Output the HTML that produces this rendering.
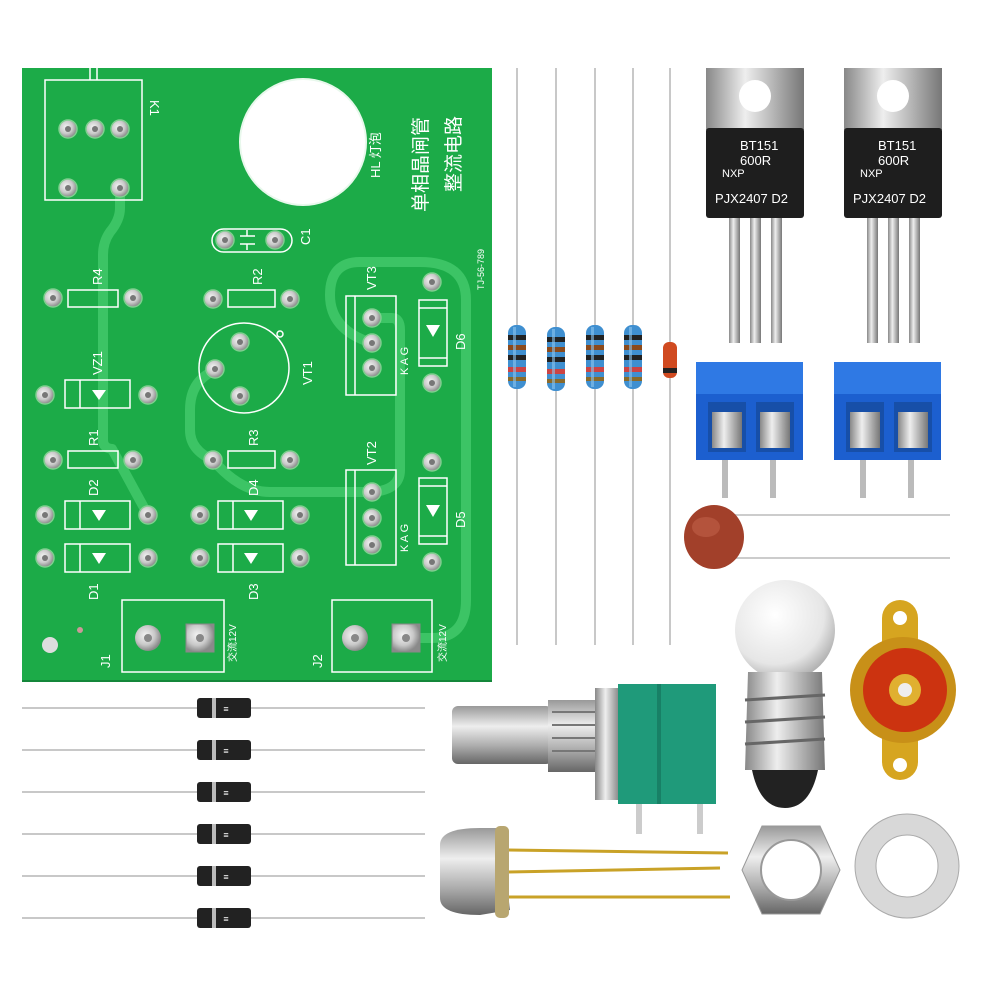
<!DOCTYPE html>
<html><head><meta charset="utf-8"><style>
html,body{margin:0;padding:0;background:#fff}
svg{display:block}
text{font-family:"Liberation Sans","Noto Sans CJK SC",sans-serif;fill:#fff}
</style></head><body>
<svg width="1000" height="1000" viewBox="0 0 1000 1000" xmlns="http://www.w3.org/2000/svg">
<defs>
<radialGradient id="pad" cx="0.4" cy="0.4" r="0.6"><stop offset="0" stop-color="#f4f4f4"/><stop offset="0.6" stop-color="#c9c9c9"/><stop offset="1" stop-color="#8a8a8a"/></radialGradient>
<linearGradient id="metal" x1="0" y1="0" x2="0" y2="1"><stop offset="0" stop-color="#999"/><stop offset="0.35" stop-color="#eee"/><stop offset="0.7" stop-color="#aaa"/><stop offset="1" stop-color="#666"/></linearGradient>
<linearGradient id="metalh" x1="0" y1="0" x2="1" y2="0"><stop offset="0" stop-color="#888"/><stop offset="0.4" stop-color="#eee"/><stop offset="1" stop-color="#777"/></linearGradient>
<radialGradient id="glass" cx="0.4" cy="0.35" r="0.7"><stop offset="0" stop-color="#fff"/><stop offset="0.7" stop-color="#e6e6e6"/><stop offset="1" stop-color="#aaa"/></radialGradient>
<g id="p"><circle r="9" fill="url(#pad)" stroke="#7fcf8f" stroke-width="1.5"/><circle r="3" fill="#777"/></g>
<g id="diode"><rect x="-8" y="-5" width="16" height="10" rx="2" fill="#3a3a3a"/><rect x="-27" y="-10" width="54" height="20" rx="3" fill="#222"/><rect x="-12" y="-10" width="4" height="20" fill="#bbb"/><text x="2" y="4" font-size="9" fill="#888" text-anchor="middle">≡</text></g>
<g id="res"><rect x="-9" y="0" width="18" height="64" rx="8" fill="#3f8fd0"/><rect x="-9" y="10" width="18" height="5" fill="#222"/><rect x="-9" y="20" width="18" height="5" fill="#8b4a1c"/><rect x="-9" y="30" width="18" height="5" fill="#222"/><rect x="-9" y="42" width="18" height="5" fill="#c44"/><rect x="-9" y="52" width="18" height="4" fill="#8b6a2a"/><rect x="-4" y="2" width="3" height="60" fill="#8cc4ee" opacity=".6"/></g>
</defs>

<!-- PCB -->
<rect x="22" y="68" width="470" height="614" fill="#1cab48"/>
<line x1="22" y1="681" x2="492" y2="681" stroke="#14873a" stroke-width="2"/>
<g fill="none" stroke="#3cc465" stroke-width="10" stroke-linecap="round" stroke-linejoin="round">
<path d="M120 188 L120 208 Q120 220 110 232 Q103 242 103 255 L103 440 Q103 448 112 449 L148 515"/>
<path d="M216 370 Q190 380 190 410 L190 430 Q190 450 213 460 Q240 492 270 492 L372 492"/>
<path d="M372 318 L392 318 Q400 318 400 330 L400 470 Q400 490 372 492"/>
<path d="M372 343 Q330 330 330 295 Q330 262 360 262 L420 262 Q466 262 466 300 L466 600 Q466 638 432 638 L406 638"/>
</g>
<g fill="none" stroke="#fff" stroke-width="1.5">
<rect x="45" y="80" width="97" height="120"/>
<line x1="90" y1="68" x2="90" y2="80"/><line x1="97" y1="68" x2="97" y2="80"/>
<rect x="212" y="229" width="80" height="23" rx="11.5"/>
<line x1="240" y1="236" x2="255" y2="236"/><line x1="240" y1="244" x2="255" y2="244"/><line x1="247" y1="236" x2="247" y2="230"/><line x1="247" y1="244" x2="247" y2="250"/>
<rect x="228" y="290" width="47" height="17"/>
<rect x="68" y="290" width="50" height="17"/>
<circle cx="244" cy="368" r="45"/><circle cx="280" cy="334" r="3"/>
<rect x="65" y="380" width="65" height="28"/><line x1="80" y1="380" x2="80" y2="408"/>
<rect x="68" y="451" width="50" height="17"/>
<rect x="228" y="451" width="47" height="17"/>
<rect x="65" y="501" width="65" height="28"/><line x1="80" y1="501" x2="80" y2="529"/>
<rect x="65" y="544" width="65" height="28"/><line x1="80" y1="544" x2="80" y2="572"/>
<rect x="218" y="501" width="65" height="28"/><line x1="233" y1="501" x2="233" y2="529"/>
<rect x="218" y="544" width="65" height="28"/><line x1="233" y1="544" x2="233" y2="572"/>
<path d="M346 296 L396 296 L396 395 L346 395 Z M355 296 L355 395"/>
<path d="M346 470 L396 470 L396 565 L346 565 Z M355 470 L355 565"/>
<rect x="419" y="300" width="28" height="66"/><line x1="419" y1="308" x2="447" y2="308"/><line x1="419" y1="358" x2="447" y2="358"/>
<rect x="419" y="478" width="28" height="66"/><line x1="419" y1="486" x2="447" y2="486"/><line x1="419" y1="536" x2="447" y2="536"/>
<rect x="122" y="600" width="102" height="72"/>
<rect x="332" y="600" width="100" height="72"/>
</g>
<g fill="#fff">
<path d="M92 390 L106 390 L99 400 Z"/><path d="M92 510 L106 510 L99 521 Z"/><path d="M92 553 L106 553 L99 564 Z"/>
<path d="M244 510 L258 510 L251 521 Z"/><path d="M244 553 L258 553 L251 564 Z"/>
<path d="M426 325 L440 325 L433 337 Z"/><path d="M426 505 L440 505 L433 517 Z"/>
</g>
<circle cx="303" cy="142" r="63" fill="#fff" stroke="#e8f8ec" stroke-width="2"/>
<g font-size="13">
<text transform="translate(150,100) rotate(90)">K1</text>
<text transform="translate(380,178) rotate(-90)">HL 灯泡</text>
<text transform="translate(427,212) rotate(-90)" font-size="19">单相晶闸管</text>
<text transform="translate(460,192) rotate(-90)" font-size="19">整流电路</text>
<text transform="translate(484,290) rotate(-90)" font-size="9">TJ-56-789</text>
<text transform="translate(310,245) rotate(-90)">C1</text>
<text transform="translate(262,285) rotate(-90)">R2</text>
<text transform="translate(102,285) rotate(-90)">R4</text>
<text transform="translate(102,375) rotate(-90)">VZ1</text>
<text transform="translate(312,385) rotate(-90)">VT1</text>
<text transform="translate(98,446) rotate(-90)">R1</text>
<text transform="translate(258,446) rotate(-90)">R3</text>
<text transform="translate(98,496) rotate(-90)">D2</text>
<text transform="translate(258,496) rotate(-90)">D4</text>
<text transform="translate(98,600) rotate(-90)">D1</text>
<text transform="translate(258,600) rotate(-90)">D3</text>
<text transform="translate(376,290) rotate(-90)">VT3</text>
<text transform="translate(376,465) rotate(-90)">VT2</text>
<text transform="translate(408,375) rotate(-90)" font-size="11">K A G</text>
<text transform="translate(408,552) rotate(-90)" font-size="11">K A G</text>
<text transform="translate(465,350) rotate(-90)">D6</text>
<text transform="translate(465,528) rotate(-90)">D5</text>
<text transform="translate(110,668) rotate(-90)">J1</text>
<text transform="translate(322,668) rotate(-90)">J2</text>
<text transform="translate(236,662) rotate(-90)" font-size="10">交流12V</text>
<text transform="translate(446,662) rotate(-90)" font-size="10">交流12V</text>
</g>
<g>
<use href="#p" x="68" y="129"/><use href="#p" x="95" y="129"/><use href="#p" x="120" y="129"/><use href="#p" x="68" y="188"/><use href="#p" x="120" y="188"/>
<use href="#p" x="225" y="240"/><use href="#p" x="275" y="240"/>
<use href="#p" x="213" y="299"/><use href="#p" x="290" y="299"/>
<use href="#p" x="53" y="298"/><use href="#p" x="133" y="298"/>
<use href="#p" x="240" y="342"/><use href="#p" x="215" y="369"/><use href="#p" x="240" y="396"/>
<use href="#p" x="45" y="395"/><use href="#p" x="148" y="395"/>
<use href="#p" x="53" y="460"/><use href="#p" x="133" y="460"/>
<use href="#p" x="213" y="460"/><use href="#p" x="290" y="460"/>
<use href="#p" x="45" y="515"/><use href="#p" x="148" y="515"/>
<use href="#p" x="45" y="558"/><use href="#p" x="148" y="558"/>
<use href="#p" x="200" y="515"/><use href="#p" x="300" y="515"/>
<use href="#p" x="200" y="558"/><use href="#p" x="300" y="558"/>
<use href="#p" x="372" y="318"/><use href="#p" x="372" y="343"/><use href="#p" x="372" y="368"/>
<use href="#p" x="372" y="492"/><use href="#p" x="372" y="518"/><use href="#p" x="372" y="545"/>
<use href="#p" x="432" y="282"/><use href="#p" x="432" y="383"/>
<use href="#p" x="432" y="462"/><use href="#p" x="432" y="562"/>
</g>
<circle cx="148" cy="638" r="13" fill="url(#pad)"/><circle cx="148" cy="638" r="4" fill="#888"/>
<rect x="186" y="624" width="28" height="28" fill="url(#pad)" stroke="#888"/><circle cx="200" cy="638" r="4" fill="#888"/>
<circle cx="355" cy="638" r="13" fill="url(#pad)"/><circle cx="355" cy="638" r="4" fill="#888"/>
<rect x="392" y="624" width="28" height="28" fill="url(#pad)" stroke="#888"/><circle cx="406" cy="638" r="4" fill="#888"/>
<circle cx="80" cy="630" r="3" fill="#c99"/><circle cx="50" cy="645" r="8" fill="#ddd"/>

<!-- resistor leads -->
<g stroke="#c8c8c8" stroke-width="2">
<line x1="517" y1="68" x2="517" y2="645"/><line x1="556" y1="68" x2="556" y2="645"/><line x1="595" y1="68" x2="595" y2="645"/><line x1="633" y1="68" x2="633" y2="645"/><line x1="670" y1="68" x2="670" y2="645"/>
</g>
<use href="#res" x="517" y="325"/><use href="#res" x="556" y="327"/><use href="#res" x="595" y="325"/><use href="#res" x="633" y="325"/>
<rect x="663" y="342" width="14" height="36" rx="6" fill="#d04a20"/><rect x="663" y="368" width="14" height="5" fill="#222"/>

<!-- TO-220 -->
<g id="to220">
<rect x="706" y="68" width="98" height="62" fill="url(#metalh)"/>
<circle cx="755" cy="96" r="16" fill="#fff"/>
<rect x="706" y="128" width="98" height="90" rx="3" fill="#1e1e1e"/>
<text x="740" y="150" font-size="13" fill="#ddd">BT151</text>
<text x="740" y="165" font-size="13" fill="#ddd">600R</text>
<text x="722" y="177" font-size="11" fill="#ccc">NXP</text>
<text x="715" y="203" font-size="13" fill="#ddd">PJX2407 D2</text>
<rect x="729" y="218" width="11" height="125" fill="url(#metalh)"/><rect x="750" y="218" width="11" height="125" fill="url(#metalh)"/><rect x="771" y="218" width="11" height="125" fill="url(#metalh)"/>
</g>
<use href="#to220" x="138"/>

<!-- terminal blocks -->
<g id="tb">
<rect x="696" y="362" width="107" height="98" fill="#1c5fcf"/>
<rect x="696" y="362" width="107" height="32" fill="#2f79e4"/>
<rect x="708" y="402" width="38" height="50" fill="#174fa8"/><rect x="756" y="402" width="38" height="50" fill="#174fa8"/>
<rect x="712" y="412" width="30" height="36" fill="url(#metalh)"/><rect x="760" y="412" width="30" height="36" fill="url(#metalh)"/>
<rect x="722" y="460" width="6" height="38" fill="#bbb"/><rect x="770" y="460" width="6" height="38" fill="#bbb"/>
</g>
<use href="#tb" x="138"/>

<!-- ceramic cap -->
<g stroke="#ccc" stroke-width="2"><line x1="720" y1="515" x2="950" y2="515"/><line x1="720" y1="558" x2="950" y2="558"/></g>
<ellipse cx="714" cy="537" rx="30" ry="32" fill="#a2402a"/><ellipse cx="706" cy="527" rx="14" ry="10" fill="#c0604a" opacity=".6"/>

<!-- bulb -->
<circle cx="785" cy="630" r="50" fill="url(#glass)"/>
<path d="M748 672 L822 672 L825 770 L745 770 Z" fill="url(#metalh)"/>
<g stroke="#666" stroke-width="3"><line x1="745" y1="700" x2="825" y2="695"/><line x1="745" y1="722" x2="825" y2="717"/><line x1="745" y1="744" x2="825" y2="739"/></g>
<path d="M752 770 L818 770 Q810 808 785 808 Q760 808 752 770Z" fill="#222"/>

<!-- RCA socket -->
<rect x="882" y="600" width="36" height="180" rx="18" fill="#d6a520"/>
<circle cx="900" cy="618" r="7" fill="#fff"/><circle cx="900" cy="765" r="7" fill="#fff"/>
<circle cx="903" cy="690" r="53" fill="#c89018"/>
<circle cx="905" cy="690" r="42" fill="#cc3310"/>
<circle cx="905" cy="690" r="16" fill="#e0b030"/><circle cx="905" cy="690" r="7" fill="#eee"/>

<!-- potentiometer -->
<rect x="452" y="706" width="100" height="58" rx="6" fill="url(#metal)"/>
<rect x="548" y="700" width="50" height="72" fill="url(#metal)"/>
<g stroke="#777" stroke-width="2"><line x1="552" y1="712" x2="595" y2="712"/><line x1="552" y1="725" x2="595" y2="725"/><line x1="552" y1="738" x2="595" y2="738"/><line x1="552" y1="751" x2="595" y2="751"/></g>
<rect x="595" y="688" width="26" height="112" fill="url(#metalh)"/>
<rect x="618" y="684" width="98" height="120" fill="#1f9a7a"/>
<rect x="657" y="684" width="4" height="120" fill="#188066"/>
<rect x="636" y="804" width="6" height="30" fill="#ccc"/><rect x="697" y="804" width="6" height="30" fill="#ccc"/>

<!-- transistor can -->
<g stroke="#c9a227" stroke-width="3"><line x1="505" y1="850" x2="728" y2="853"/><line x1="505" y1="872" x2="720" y2="868"/><line x1="505" y1="897" x2="730" y2="897"/></g>
<path d="M440 845 Q440 828 480 828 L500 828 L510 910 L480 915 Q440 915 440 898 Z" fill="url(#metal)"/>
<rect x="495" y="826" width="14" height="92" rx="5" fill="#b8a670"/>

<!-- nut -->
<polygon points="762,826 820,826 840,870 820,914 762,914 742,870" fill="url(#metal)" stroke="#999"/>
<circle cx="791" cy="870" r="30" fill="#fff" stroke="#999" stroke-width="2"/>
<!-- washer -->
<circle cx="907" cy="866" r="52" fill="#d8d8d8" stroke="#aaa"/>
<circle cx="907" cy="866" r="31" fill="#fff" stroke="#aaa"/>

<!-- diodes -->
<g stroke="#c8c8c8" stroke-width="2">
<line x1="22" y1="708" x2="425" y2="708"/><line x1="22" y1="750" x2="425" y2="750"/><line x1="22" y1="792" x2="425" y2="792"/><line x1="22" y1="834" x2="425" y2="834"/><line x1="22" y1="876" x2="425" y2="876"/><line x1="22" y1="918" x2="425" y2="918"/>
</g>
<use href="#diode" x="224" y="708"/><use href="#diode" x="224" y="750"/><use href="#diode" x="224" y="792"/><use href="#diode" x="224" y="834"/><use href="#diode" x="224" y="876"/><use href="#diode" x="224" y="918"/>
</svg>
</body></html>
